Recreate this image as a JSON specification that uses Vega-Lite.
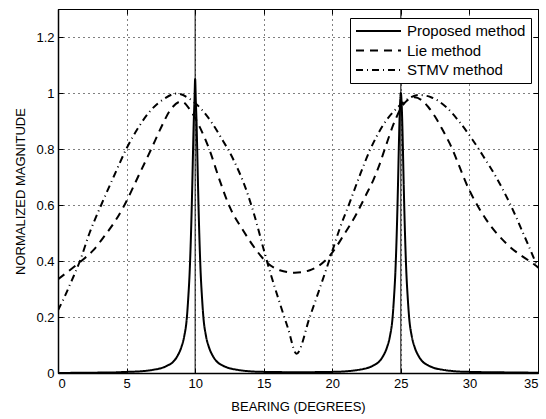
{
  "$schema": "https://vega.github.io/schema/vega-lite/v6.json",
  "width": 480,
  "height": 364,
  "autosize": "none",
  "padding": {"left": 58, "top": 9, "right": 8, "bottom": 46},
  "background": "white",
  "config": {
    "view": {"stroke": "black", "strokeWidth": 1},
    "font": "Liberation Sans",
    "axis": {
      "labelFont": "Liberation Sans", "labelFontSize": 13, "labelColor": "black",
      "titleFont": "Liberation Sans", "titleFontSize": 13, "titleFontWeight": "normal", "titleColor": "black",
      "domainColor": "black", "domainWidth": 1.5,
      "tickColor": "black", "tickSize": -5, "tickWidth": 1,
      "gridColor": "black", "gridDash": [1, 4], "gridOpacity": 1, "gridWidth": 1
    }
  },
  "datasets": {
    "curves": [
      {"x": 0, "y": 0.0, "method": "Proposed method"},
      {"x": 2, "y": 0.001, "method": "Proposed method"},
      {"x": 4, "y": 0.002, "method": "Proposed method"},
      {"x": 5, "y": 0.004, "method": "Proposed method"},
      {"x": 6, "y": 0.006, "method": "Proposed method"},
      {"x": 7, "y": 0.012, "method": "Proposed method"},
      {"x": 7.5, "y": 0.017, "method": "Proposed method"},
      {"x": 8, "y": 0.027, "method": "Proposed method"},
      {"x": 8.4, "y": 0.04, "method": "Proposed method"},
      {"x": 8.7, "y": 0.06, "method": "Proposed method"},
      {"x": 9, "y": 0.093, "method": "Proposed method"},
      {"x": 9.2, "y": 0.13, "method": "Proposed method"},
      {"x": 9.4, "y": 0.2, "method": "Proposed method"},
      {"x": 9.5, "y": 0.27, "method": "Proposed method"},
      {"x": 9.6, "y": 0.36, "method": "Proposed method"},
      {"x": 9.7, "y": 0.5, "method": "Proposed method"},
      {"x": 9.8, "y": 0.69, "method": "Proposed method"},
      {"x": 9.85, "y": 0.8, "method": "Proposed method"},
      {"x": 9.9, "y": 0.9, "method": "Proposed method"},
      {"x": 9.95, "y": 0.97, "method": "Proposed method"},
      {"x": 10, "y": 1.05, "method": "Proposed method"},
      {"x": 10.05, "y": 0.97, "method": "Proposed method"},
      {"x": 10.1, "y": 0.9, "method": "Proposed method"},
      {"x": 10.15, "y": 0.8, "method": "Proposed method"},
      {"x": 10.2, "y": 0.69, "method": "Proposed method"},
      {"x": 10.3, "y": 0.5, "method": "Proposed method"},
      {"x": 10.4, "y": 0.36, "method": "Proposed method"},
      {"x": 10.5, "y": 0.27, "method": "Proposed method"},
      {"x": 10.6, "y": 0.2, "method": "Proposed method"},
      {"x": 10.8, "y": 0.13, "method": "Proposed method"},
      {"x": 11, "y": 0.093, "method": "Proposed method"},
      {"x": 11.3, "y": 0.06, "method": "Proposed method"},
      {"x": 11.6, "y": 0.04, "method": "Proposed method"},
      {"x": 12, "y": 0.027, "method": "Proposed method"},
      {"x": 12.5, "y": 0.017, "method": "Proposed method"},
      {"x": 13, "y": 0.012, "method": "Proposed method"},
      {"x": 14, "y": 0.006, "method": "Proposed method"},
      {"x": 15, "y": 0.004, "method": "Proposed method"},
      {"x": 17, "y": 0.003, "method": "Proposed method"},
      {"x": 18, "y": 0.003, "method": "Proposed method"},
      {"x": 20, "y": 0.004, "method": "Proposed method"},
      {"x": 21, "y": 0.006, "method": "Proposed method"},
      {"x": 22, "y": 0.012, "method": "Proposed method"},
      {"x": 22.5, "y": 0.017, "method": "Proposed method"},
      {"x": 23, "y": 0.027, "method": "Proposed method"},
      {"x": 23.4, "y": 0.04, "method": "Proposed method"},
      {"x": 23.7, "y": 0.06, "method": "Proposed method"},
      {"x": 24, "y": 0.093, "method": "Proposed method"},
      {"x": 24.2, "y": 0.13, "method": "Proposed method"},
      {"x": 24.4, "y": 0.2, "method": "Proposed method"},
      {"x": 24.5, "y": 0.27, "method": "Proposed method"},
      {"x": 24.6, "y": 0.36, "method": "Proposed method"},
      {"x": 24.7, "y": 0.5, "method": "Proposed method"},
      {"x": 24.8, "y": 0.69, "method": "Proposed method"},
      {"x": 24.85, "y": 0.8, "method": "Proposed method"},
      {"x": 24.9, "y": 0.9, "method": "Proposed method"},
      {"x": 24.95, "y": 0.97, "method": "Proposed method"},
      {"x": 25, "y": 1.0, "method": "Proposed method"},
      {"x": 25.05, "y": 0.97, "method": "Proposed method"},
      {"x": 25.1, "y": 0.9, "method": "Proposed method"},
      {"x": 25.15, "y": 0.8, "method": "Proposed method"},
      {"x": 25.2, "y": 0.69, "method": "Proposed method"},
      {"x": 25.3, "y": 0.5, "method": "Proposed method"},
      {"x": 25.4, "y": 0.36, "method": "Proposed method"},
      {"x": 25.5, "y": 0.27, "method": "Proposed method"},
      {"x": 25.6, "y": 0.2, "method": "Proposed method"},
      {"x": 25.8, "y": 0.13, "method": "Proposed method"},
      {"x": 26, "y": 0.093, "method": "Proposed method"},
      {"x": 26.3, "y": 0.06, "method": "Proposed method"},
      {"x": 26.6, "y": 0.04, "method": "Proposed method"},
      {"x": 27, "y": 0.027, "method": "Proposed method"},
      {"x": 27.5, "y": 0.017, "method": "Proposed method"},
      {"x": 28, "y": 0.012, "method": "Proposed method"},
      {"x": 29, "y": 0.006, "method": "Proposed method"},
      {"x": 30, "y": 0.004, "method": "Proposed method"},
      {"x": 33, "y": 0.002, "method": "Proposed method"},
      {"x": 35, "y": 0.001, "method": "Proposed method"},

      {"x": 0, "y": 0.335, "method": "Lie method"},
      {"x": 0.8, "y": 0.365, "method": "Lie method"},
      {"x": 1.7, "y": 0.4, "method": "Lie method"},
      {"x": 2.6, "y": 0.44, "method": "Lie method"},
      {"x": 3.4, "y": 0.49, "method": "Lie method"},
      {"x": 4.2, "y": 0.545, "method": "Lie method"},
      {"x": 4.85, "y": 0.6, "method": "Lie method"},
      {"x": 5.83, "y": 0.7, "method": "Lie method"},
      {"x": 6.8, "y": 0.8, "method": "Lie method"},
      {"x": 7.5, "y": 0.875, "method": "Lie method"},
      {"x": 8.2, "y": 0.94, "method": "Lie method"},
      {"x": 9.0, "y": 0.97, "method": "Lie method"},
      {"x": 9.7, "y": 0.935, "method": "Lie method"},
      {"x": 10.33, "y": 0.879, "method": "Lie method"},
      {"x": 11.06, "y": 0.795, "method": "Lie method"},
      {"x": 11.79, "y": 0.688, "method": "Lie method"},
      {"x": 12.52, "y": 0.593, "method": "Lie method"},
      {"x": 13.49, "y": 0.51, "method": "Lie method"},
      {"x": 14.47, "y": 0.438, "method": "Lie method"},
      {"x": 15.2, "y": 0.396, "method": "Lie method"},
      {"x": 16.17, "y": 0.367, "method": "Lie method"},
      {"x": 17.26, "y": 0.358, "method": "Lie method"},
      {"x": 18.36, "y": 0.367, "method": "Lie method"},
      {"x": 19.45, "y": 0.4, "method": "Lie method"},
      {"x": 19.94, "y": 0.426, "method": "Lie method"},
      {"x": 20.8, "y": 0.49, "method": "Lie method"},
      {"x": 21.77, "y": 0.569, "method": "Lie method"},
      {"x": 22.5, "y": 0.64, "method": "Lie method"},
      {"x": 23.0, "y": 0.69, "method": "Lie method"},
      {"x": 23.47, "y": 0.748, "method": "Lie method"},
      {"x": 23.83, "y": 0.8, "method": "Lie method"},
      {"x": 24.56, "y": 0.9, "method": "Lie method"},
      {"x": 25.05, "y": 0.95, "method": "Lie method"},
      {"x": 25.5, "y": 0.975, "method": "Lie method"},
      {"x": 26.0, "y": 0.985, "method": "Lie method"},
      {"x": 26.5, "y": 0.975, "method": "Lie method"},
      {"x": 27.0, "y": 0.95, "method": "Lie method"},
      {"x": 27.5, "y": 0.915, "method": "Lie method"},
      {"x": 27.97, "y": 0.875, "method": "Lie method"},
      {"x": 28.57, "y": 0.819, "method": "Lie method"},
      {"x": 30.0, "y": 0.652, "method": "Lie method"},
      {"x": 31.26, "y": 0.545, "method": "Lie method"},
      {"x": 32.7, "y": 0.462, "method": "Lie method"},
      {"x": 34.66, "y": 0.39, "method": "Lie method"},
      {"x": 35, "y": 0.378, "method": "Lie method"},

      {"x": 0, "y": 0.224, "method": "STMV method"},
      {"x": 0.47, "y": 0.271, "method": "STMV method"},
      {"x": 1.0, "y": 0.33, "method": "STMV method"},
      {"x": 1.6, "y": 0.4, "method": "STMV method"},
      {"x": 2.3, "y": 0.5, "method": "STMV method"},
      {"x": 3.15, "y": 0.6, "method": "STMV method"},
      {"x": 4.05, "y": 0.7, "method": "STMV method"},
      {"x": 4.98, "y": 0.8, "method": "STMV method"},
      {"x": 5.9, "y": 0.88, "method": "STMV method"},
      {"x": 6.8, "y": 0.94, "method": "STMV method"},
      {"x": 7.77, "y": 0.98, "method": "STMV method"},
      {"x": 8.63, "y": 0.998, "method": "STMV method"},
      {"x": 9.72, "y": 0.975, "method": "STMV method"},
      {"x": 10.5, "y": 0.94, "method": "STMV method"},
      {"x": 11.2, "y": 0.895, "method": "STMV method"},
      {"x": 11.9, "y": 0.84, "method": "STMV method"},
      {"x": 12.76, "y": 0.765, "method": "STMV method"},
      {"x": 13.74, "y": 0.652, "method": "STMV method"},
      {"x": 14.34, "y": 0.56, "method": "STMV method"},
      {"x": 14.95, "y": 0.45, "method": "STMV method"},
      {"x": 15.44, "y": 0.365, "method": "STMV method"},
      {"x": 16.17, "y": 0.25, "method": "STMV method"},
      {"x": 16.77, "y": 0.16, "method": "STMV method"},
      {"x": 17.39, "y": 0.069, "method": "STMV method"},
      {"x": 18.36, "y": 0.2, "method": "STMV method"},
      {"x": 19.0, "y": 0.29, "method": "STMV method"},
      {"x": 19.94, "y": 0.426, "method": "STMV method"},
      {"x": 20.5, "y": 0.51, "method": "STMV method"},
      {"x": 21.28, "y": 0.61, "method": "STMV method"},
      {"x": 22.0, "y": 0.705, "method": "STMV method"},
      {"x": 22.74, "y": 0.795, "method": "STMV method"},
      {"x": 23.7, "y": 0.885, "method": "STMV method"},
      {"x": 24.8, "y": 0.95, "method": "STMV method"},
      {"x": 25.5, "y": 0.978, "method": "STMV method"},
      {"x": 26.3, "y": 0.993, "method": "STMV method"},
      {"x": 27.2, "y": 0.985, "method": "STMV method"},
      {"x": 28.3, "y": 0.95, "method": "STMV method"},
      {"x": 29.3, "y": 0.895, "method": "STMV method"},
      {"x": 30.2, "y": 0.835, "method": "STMV method"},
      {"x": 31.0, "y": 0.775, "method": "STMV method"},
      {"x": 32.0, "y": 0.695, "method": "STMV method"},
      {"x": 33.0, "y": 0.6, "method": "STMV method"},
      {"x": 34.0, "y": 0.49, "method": "STMV method"},
      {"x": 35, "y": 0.375, "method": "STMV method"}
    ],
    "targets": [{"bearing": 10}, {"bearing": 25}]
  },
  "layer": [
    {
      "data": {"name": "curves"},
      "mark": {"type": "line", "color": "black", "interpolate": "monotone", "clip": true},
      "encoding": {
        "x": {
          "field": "x", "type": "quantitative",
          "scale": {"domain": [0, 35], "nice": false, "zero": false},
          "axis": {"values": [0, 5, 10, 15, 20, 25, 30, 35], "title": "BEARING (DEGREES)", "grid": true, "labelPadding": 9, "titlePadding": 10}
        },
        "y": {
          "field": "y", "type": "quantitative",
          "scale": {"domain": [0, 1.3], "nice": false},
          "axis": {"values": [0, 0.2, 0.4, 0.6, 0.8, 1, 1.2], "format": "~g", "title": "NORMALIZED MAGNITUDE", "grid": true, "labelPadding": 9, "titlePadding": 8}
        },
        "strokeDash": {
          "field": "method", "type": "nominal",
          "scale": {"domain": ["Proposed method", "Lie method", "STMV method"], "range": [[1, 0], [8, 6], [7, 4, 1, 4]]},
          "legend": {
            "title": null, "orient": "none", "legendX": 292, "legendY": 9,
            "fillColor": "white", "strokeColor": "black", "padding": 5,
            "labelFont": "Liberation Sans", "labelFontSize": 15, "labelColor": "black",
            "symbolType": "stroke", "symbolSize": 2025, "symbolStrokeColor": "black", "symbolStrokeWidth": 2,
            "clipHeight": 16, "rowPadding": 3.5, "labelOffset": 5
          }
        },
        "strokeWidth": {
          "field": "method", "type": "nominal",
          "scale": {"domain": ["Proposed method", "Lie method", "STMV method"], "range": [2, 2, 1.5]},
          "legend": null
        }
      }
    },
    {
      "data": {"name": "targets"},
      "mark": {"type": "rule", "color": "black", "strokeWidth": 1},
      "encoding": {
        "x": {"field": "bearing", "type": "quantitative", "axis": {"orient": "top", "labels": false, "title": null, "grid": false, "domain": false, "values": [0, 5, 10, 15, 20, 25, 30, 35]}},
        "y": {"datum": 0, "type": "quantitative", "axis": {"orient": "right", "labels": false, "title": null, "grid": false, "domain": false, "values": [0, 0.2, 0.4, 0.6, 0.8, 1, 1.2]}},
        "y2": {"datum": 1.3}
      }
    }
  ],
  "resolve": {"axis": {"x": "independent", "y": "independent"}}
}
